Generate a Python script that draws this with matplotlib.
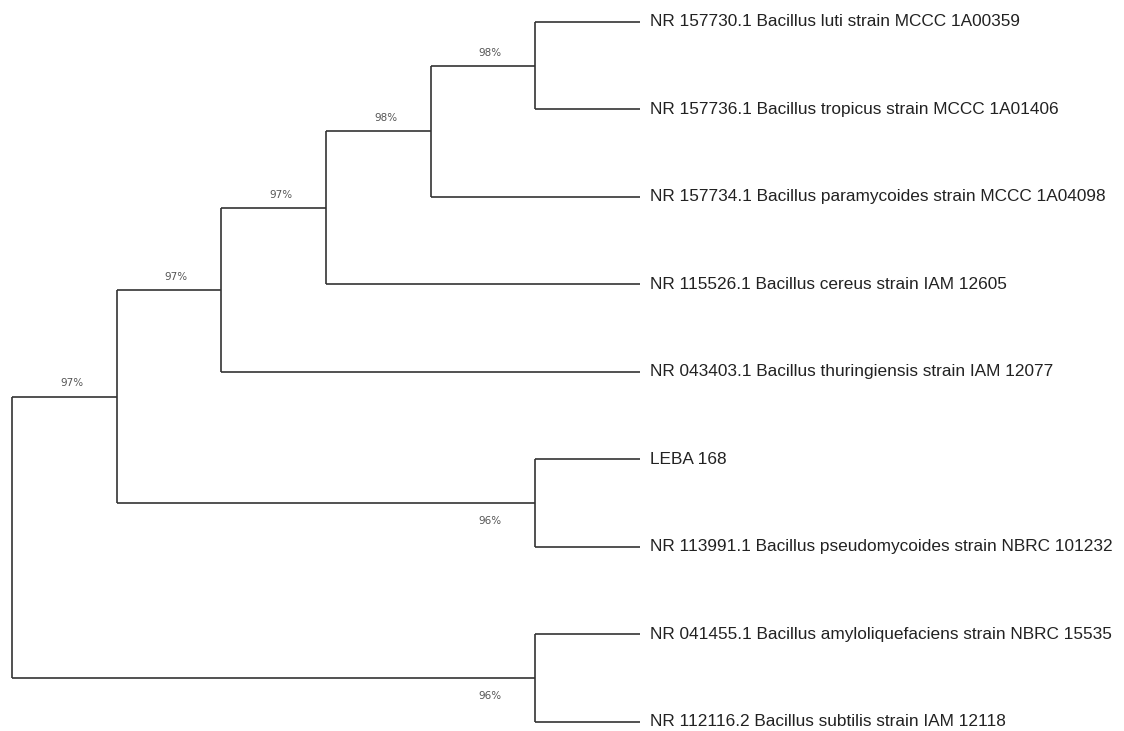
import matplotlib.pyplot as plt

# leaves, top to bottom
leaf_names = [
    "NR 157730.1 Bacillus luti strain MCCC 1A00359",
    "NR 157736.1 Bacillus tropicus strain MCCC 1A01406",
    "NR 157734.1 Bacillus paramycoides strain MCCC 1A04098",
    "NR 115526.1 Bacillus cereus strain IAM 12605",
    "NR 043403.1 Bacillus thuringiensis strain IAM 12077",
    "LEBA 168",
    "NR 113991.1 Bacillus pseudomycoides strain NBRC 101232",
    "NR 041455.1 Bacillus amyloliquefaciens strain NBRC 15535",
    "NR 112116.2 Bacillus subtilis strain IAM 12118",
]
leaf_parent = ["E", "E", "D", "C", "B", "F", "F", "G", "G"]
leaf_depth = 6

# internal nodes
node_names = ["root", "A", "B", "C", "D", "E", "F", "G"]
node_parent = [None, "root", "A", "B", "C", "D", "A", "root"]
node_depth = [0, 1, 2, 3, 4, 5, 5, 5]
node_support = [None, "97%", "97%", "97%", "98%", "98%", "96%", "96%"]
label_below = [False, False, False, False, False, False, True, True]

depth = dict(zip(node_names, node_depth))

# children of each node
children = {n: [] for n in node_names}
for i, p in enumerate(leaf_parent):
    children[p].append(("leaf", i))
for n, p in zip(node_names, node_parent):
    if p is not None:
        children[p].append(("node", n))

# y of each node = middle of its children
ypos = {}


def get_y(n):
    if n in ypos:
        return ypos[n]
    ys = []
    for kind, c in children[n]:
        ys.append(float(c) if kind == "leaf" else get_y(c))
    ypos[n] = (min(ys) + max(ys)) / 2
    return ypos[n]


for n in node_names:
    get_y(n)

fig = plt.figure(figsize=(11.24, 7.31), dpi=100)
ax = fig.add_axes([0, 0, 1, 1])
lc = "#333333"
lw = 1.2

# vertical lines at internal nodes
for n in node_names:
    ys = [float(c) if k == "leaf" else ypos[c] for k, c in children[n]]
    ax.plot([depth[n], depth[n]], [min(ys), max(ys)], color=lc, lw=lw,
            solid_capstyle="butt")

# horizontal branches to internal nodes + support values
for n, p, s, below in zip(node_names, node_parent, node_support, label_below):
    if p is None:
        continue
    ax.plot([depth[p], depth[n]], [ypos[n], ypos[n]], color=lc, lw=lw,
            solid_capstyle="butt")
    dy = 0.2 if below else -0.15
    ax.text(depth[n] - 0.43, ypos[n] + dy, s, fontsize=7.5,
            color="#555555", ha="center", va="center")

# leaf branches and names
for i, (name, p) in enumerate(zip(leaf_names, leaf_parent)):
    ax.plot([depth[p], leaf_depth], [i, i], color=lc, lw=lw,
            solid_capstyle="butt")
    ax.text(leaf_depth + 0.1, i, name, fontsize=12.4, color="#222222",
            ha="left", va="center", family="Liberation Sans")

ax.set_xlim(-0.115, 10.624)
ax.set_ylim(8.103, -0.251)
ax.axis("off")

fig.savefig("out.png", dpi=100)
